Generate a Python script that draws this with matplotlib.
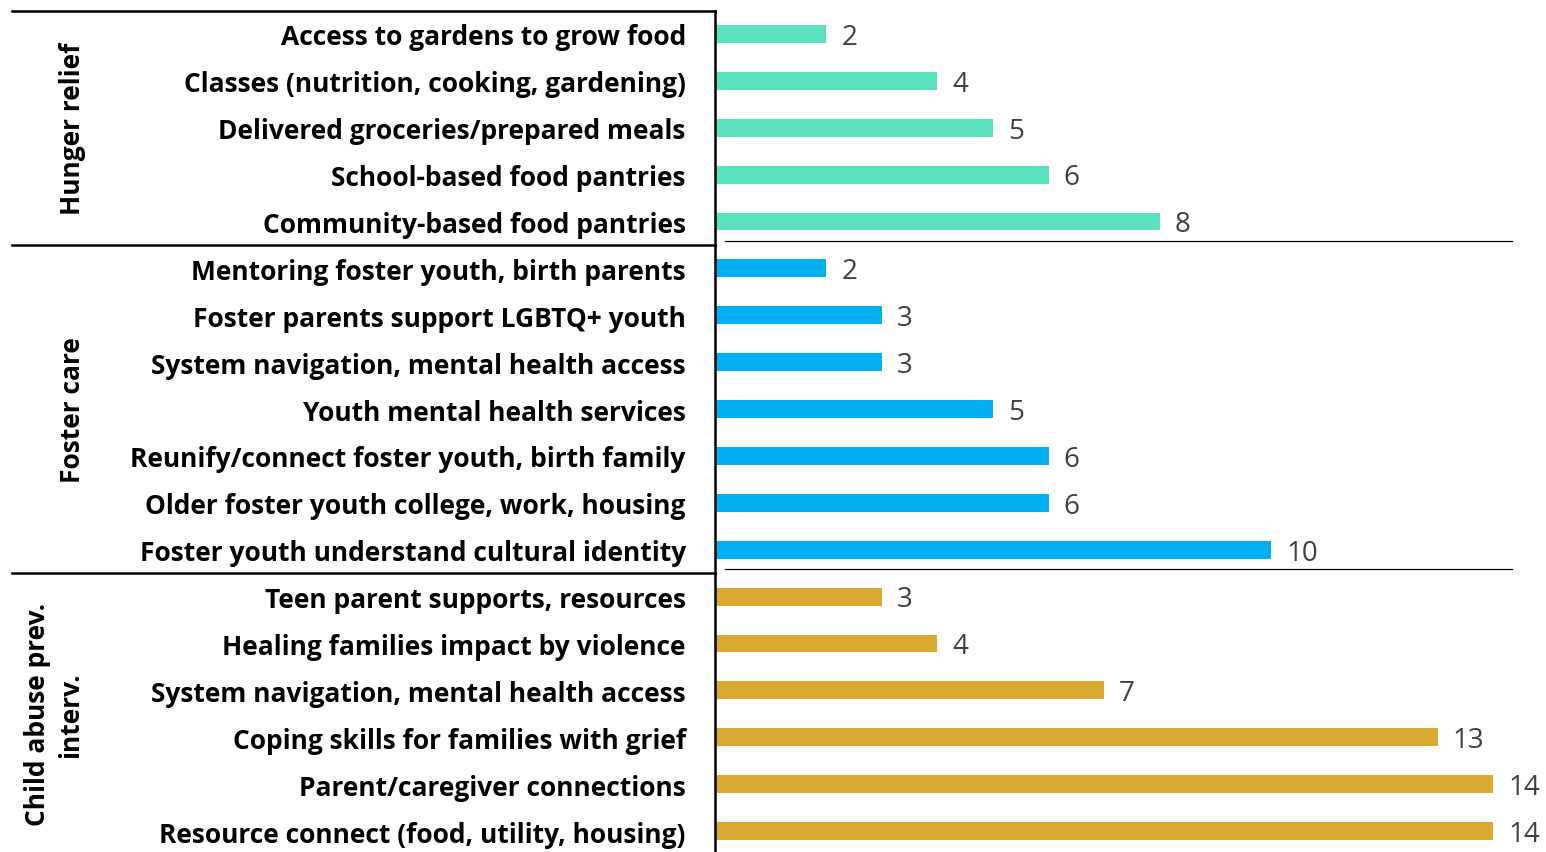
import matplotlib.pyplot as plt
import matplotlib.transforms as mtransforms
import numpy as np

# Data
categories = [
    "Access to gardens to grow food",
    "Classes (nutrition, cooking, gardening)",
    "Delivered groceries/prepared meals",
    "School-based food pantries",
    "Community-based food pantries",
    "Mentoring foster youth, birth parents",
    "Foster parents support LGBTQ+ youth",
    "System navigation, mental health access",
    "Youth mental health services",
    "Reunify/connect foster youth, birth family",
    "Older foster youth college, work, housing",
    "Foster youth understand cultural identity",
    "Teen parent supports, resources",
    "Healing families impact by violence",
    "System navigation, mental health access",
    "Coping skills for families with grief",
    "Parent/caregiver connections",
    "Resource connect (food, utility, housing)",
]
values = [2, 4, 5, 6, 8,
          2, 3, 3, 5, 6, 6, 10,
          3, 4, 7, 13, 14, 14]
group_names = ["Hunger relief", "Foster care", "Child abuse prev.\ninterv."]
group_sizes = [5, 7, 6]
group_colors = ["#5CE1BF", "#00B0F0", "#DAA931"]

plt.rcParams['font.family'] = ['Open Sans', 'DejaVu Sans']

W, H = 1546, 853
fig = plt.figure(figsize=(W / 100, H / 100), dpi=100)
ax_left = 715 / W
ax_top = 11.5
ax_bottom = 855.5
ax = fig.add_axes([ax_left, (H - ax_bottom) / H, 1 - ax_left, (ax_bottom - ax_top) / H])

colors = []
for c, n in zip(group_colors, group_sizes):
    colors += [c] * n

y = np.arange(len(categories))
ax.barh(y, values, height=0.38, color=colors)
for yi, v in zip(y, values):
    ax.text(v + 0.27, yi + 0.06, str(v), va="center", ha="left",
            fontsize=20, color="#404040")

ax.set_ylim(len(categories) - 0.5, -0.5)
ax.set_xlim(0, (W - 715) / 55.6)
ax.set_yticks(y)
ax.set_yticklabels(categories, fontsize=19, fontweight="bold")
ax.tick_params(axis="y", length=0, pad=21)
ax.set_xticks([])
for s in ["top", "right", "bottom"]:
    ax.spines[s].set_visible(False)
ax.spines["left"].set_linewidth(1.8)
ax.spines["left"].set_color("black")

# Group separators and labels
tr = mtransforms.blended_transform_factory(fig.transFigure, ax.transData)
start = 0
bounds = [-0.5]
for n in group_sizes:
    start += n
    bounds.append(start - 0.5)
for b in bounds[:-1]:
    ax.plot([12 / W, ax_left], [b, b], transform=tr, color="black",
            lw=1.8, clip_on=False)
# thin separators inside the plot area
for b in bounds[1:-1]:
    ax.plot([725 / W, 1512 / W], [b - 0.08, b - 0.08], transform=tr,
            color="black", lw=0.9, clip_on=False)

for name, lo, hi in zip(group_names, bounds[:-1], bounds[1:]):
    xpos = 54 if "\n" in name else 73
    ax.text(xpos / W, (lo + hi) / 2, name, transform=tr, rotation=90,
            ha="center", va="center", fontsize=19, fontweight="bold",
            multialignment="center", linespacing=1.3)

fig.savefig("out.png", dpi=100)
